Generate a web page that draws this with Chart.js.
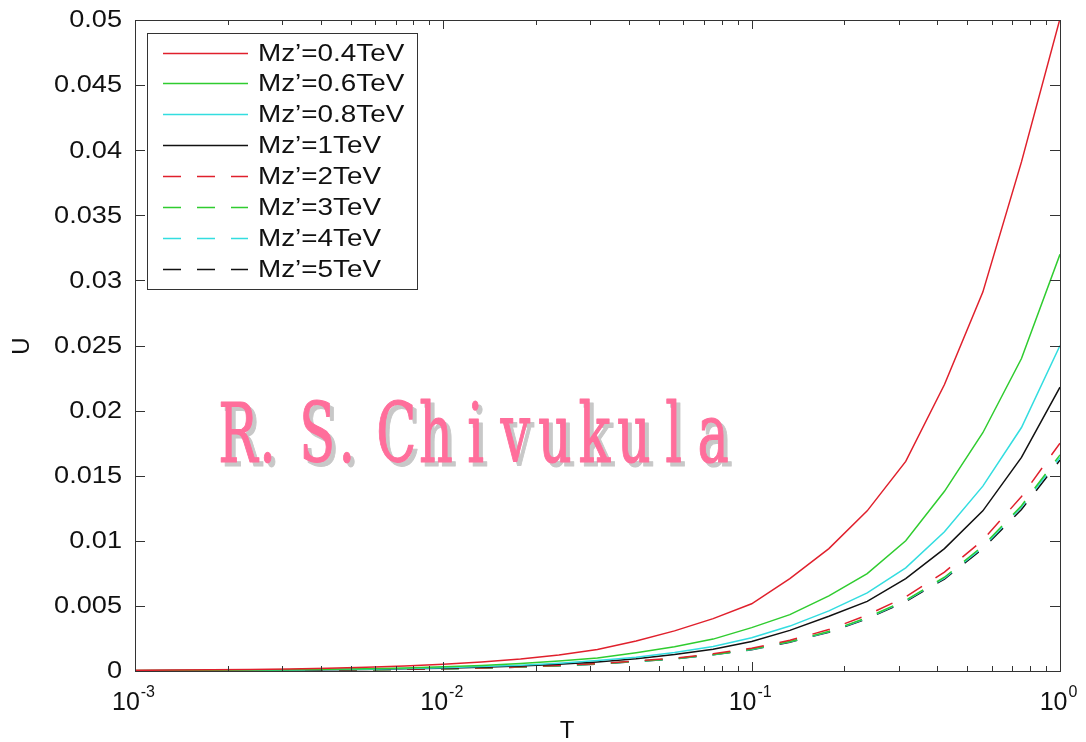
<!DOCTYPE html>
<html>
<head>
<meta charset="utf-8">
<title>U vs T</title>
<script src="https://cdn.jsdelivr.net/npm/chart.js@4.4.0/dist/chart.umd.min.js"></script>
<style>
  html, body { margin: 0; padding: 0; background: #fff; }
  #uChart { display: block; }
</style>
</head>
<body>
<canvas id="uChart" width="1086" height="742"></canvas>
<script>
// T sample points (log spaced, 8 per decade)
const T = [0.001, 0.00133, 0.00178, 0.00237, 0.00316, 0.00422, 0.00562, 0.0075,
           0.01, 0.0133, 0.0178, 0.0237, 0.0316, 0.0422, 0.0562, 0.075,
           0.1, 0.133, 0.178, 0.237, 0.316, 0.422, 0.562, 0.75, 1];

// U for each Z' mass
const u04 = [0.00005, 0.00007, 0.00009, 0.00012, 0.00016, 0.00022, 0.00029, 0.00039,
             0.00052, 0.00069, 0.00092, 0.00123, 0.00165, 0.0023, 0.00308, 0.00402,
             0.00516, 0.0071, 0.0094, 0.0123, 0.0161, 0.022, 0.0291, 0.0391, 0.0501];
const u06 = [0.000033, 0.000043, 0.000057, 0.000076, 0.0001, 0.000135, 0.00018, 0.00024,
             0.00033, 0.00043, 0.00057, 0.00076, 0.00099, 0.00141, 0.00186, 0.00245,
             0.00333, 0.00433, 0.00577, 0.00748, 0.01, 0.0138, 0.0183, 0.024, 0.032];
const u08 = [0.000025, 0.000034, 0.000045, 0.00006, 0.00008, 0.000107, 0.00014, 0.00019,
             0.00025, 0.00034, 0.00045, 0.0006, 0.0008, 0.00106, 0.00142, 0.00188,
             0.00255, 0.00345, 0.00462, 0.006, 0.00792, 0.0107, 0.0142, 0.0187, 0.025];
const u1 = [0.000022, 0.000029, 0.000039, 0.000052, 0.00007, 0.000093, 0.000124, 0.000165,
            0.00022, 0.00029, 0.00039, 0.00052, 0.0007, 0.00094, 0.00126, 0.00167,
            0.00227, 0.00312, 0.0042, 0.00535, 0.0071, 0.0094, 0.0123, 0.0164, 0.0218];
const u2 = [0.000018, 0.000024, 0.000032, 0.000043, 0.000057, 0.000076, 0.0001, 0.000135,
            0.00018, 0.00024, 0.00032, 0.00043, 0.00057, 0.00077, 0.00099, 0.00132,
            0.00175, 0.00236, 0.00318, 0.0043, 0.0057, 0.0076, 0.01005, 0.0134, 0.0175];
const u3 = [0.000017, 0.000023, 0.000031, 0.000041, 0.000055, 0.000073, 0.000097, 0.00013,
            0.00017, 0.00023, 0.00031, 0.00041, 0.00055, 0.00074, 0.00095, 0.00126,
            0.00168, 0.00226, 0.00304, 0.0041, 0.00544, 0.0072, 0.0096, 0.0127, 0.0166];
const u4 = [0.000017, 0.000022, 0.00003, 0.00004, 0.000054, 0.000072, 0.000096, 0.000128,
            0.00017, 0.00023, 0.0003, 0.0004, 0.00054, 0.00073, 0.00094, 0.00125,
            0.00166, 0.00224, 0.00301, 0.00406, 0.0054, 0.00714, 0.0095, 0.0126, 0.0164];
const u5 = [0.000016, 0.000022, 0.00003, 0.00004, 0.000053, 0.000071, 0.000095, 0.000126,
            0.000168, 0.00022, 0.0003, 0.0004, 0.00053, 0.00072, 0.00093, 0.00124,
            0.00164, 0.00221, 0.00298, 0.00402, 0.00534, 0.00706, 0.0094, 0.0124, 0.0162];

const seriesLabels = ['Mz’=0.4TeV', 'Mz’=0.6TeV', 'Mz’=0.8TeV', 'Mz’=1TeV',
                      'Mz’=2TeV', 'Mz’=3TeV', 'Mz’=4TeV', 'Mz’=5TeV'];
const seriesValues = [u04, u06, u08, u1, u2, u3, u4, u5];
const seriesColors = ['#e0202c', '#2fcc2f', '#33dde0', '#111111',
                      '#e0202c', '#2fcc2f', '#33dde0', '#111111'];
const seriesDashed = [false, false, false, false, true, true, true, true];

// axis ticks
const yTicks = [0, 0.005, 0.01, 0.015, 0.02, 0.025, 0.03, 0.035, 0.04, 0.045, 0.05];
const yTickLabels = ['0', '0.005', '0.01', '0.015', '0.02', '0.025', '0.03', '0.035', '0.04', '0.045', '0.05'];
const xDecades = [0.001, 0.01, 0.1, 1];
const xDecadeExp = ['-3', '-2', '-1', '0'];

const DASH = [18, 16];
const FONT = '"Liberation Sans", Arial, sans-serif';

const datasets = seriesValues.map((vals, i) => ({
  label: seriesLabels[i],
  data: T.map((t, j) => ({ x: t, y: vals[j] })),
  borderColor: seriesColors[i],
  backgroundColor: seriesColors[i],
  borderWidth: 1.5,
  borderDash: seriesDashed[i] ? DASH : [],
  pointRadius: 0,
  tension: 0,
  fill: false
}));

// draws box, inward ticks, tick labels, legend, axis titles and the name stamp
const matlabAxes = {
  id: 'matlabAxes',
  afterDatasetsDraw(chart) {
    const ctx = chart.ctx;
    const area = chart.chartArea;
    const xs = chart.scales.x;
    const ys = chart.scales.y;
    ctx.save();

    // box
    ctx.strokeStyle = '#333';
    ctx.lineWidth = 1;
    ctx.strokeRect(Math.round(area.left) + 0.5, Math.round(area.top) + 0.5,
                   Math.round(area.right - area.left), Math.round(area.bottom - area.top));

    // x ticks (top and bottom, pointing in)
    ctx.beginPath();
    xDecades.forEach(d => {
      for (let m = 1; m <= 9; m++) {
        const v = m * d;
        if (v > 1.0001) break;
        const px = Math.round(xs.getPixelForValue(v)) + 0.5;
        const len = m === 1 ? 9 : 5;
        ctx.moveTo(px, area.bottom); ctx.lineTo(px, area.bottom - len);
        ctx.moveTo(px, area.top); ctx.lineTo(px, area.top + len);
      }
    });
    // y ticks (left and right)
    yTicks.forEach(v => {
      const py = Math.round(ys.getPixelForValue(v)) + 0.5;
      ctx.moveTo(area.left, py); ctx.lineTo(area.left + 10, py);
      ctx.moveTo(area.right, py); ctx.lineTo(area.right - 10, py);
    });
    ctx.stroke();

    // y tick labels
    ctx.fillStyle = '#111';
    ctx.textBaseline = 'middle';
    ctx.textAlign = 'right';
    yTicks.forEach((v, i) => {
      const py = ys.getPixelForValue(v);
      ctx.save();
      ctx.translate(122, py + 1);
      ctx.scale(1.18, 1);
      ctx.font = '23px ' + FONT;
      ctx.fillText(yTickLabels[i], 0, 0);
      ctx.restore();
    });

    // x tick labels as 10^n
    ctx.textAlign = 'left';
    ctx.textBaseline = 'alphabetic';
    xDecades.forEach((v, i) => {
      const px = xs.getPixelForValue(v);
      ctx.font = '25px ' + FONT;
      const wBase = ctx.measureText('10').width;
      ctx.font = '16px ' + FONT;
      const wExp = ctx.measureText(xDecadeExp[i]).width;
      const x0 = px - (wBase + wExp) / 2 - 2;
      ctx.font = '25px ' + FONT;
      ctx.fillText('10', x0, 710);
      ctx.font = '16px ' + FONT;
      ctx.fillText(xDecadeExp[i], x0 + wBase + 1, 697);
    });

    // axis titles
    ctx.font = '24px ' + FONT;
    ctx.textAlign = 'center';
    ctx.textBaseline = 'middle';
    ctx.fillText('T', 567, 731);
    ctx.save();
    ctx.translate(22, 346);
    ctx.rotate(-Math.PI / 2);
    ctx.fillText('U', 0, 0);
    ctx.restore();

    // legend
    const lx = 147, ly = 33, lw = 270, lh = 256;
    ctx.fillStyle = '#fff';
    ctx.fillRect(lx, ly, lw, lh);
    ctx.strokeStyle = '#333';
    ctx.strokeRect(lx + 0.5, ly + 0.5, lw, lh);
    chart.data.datasets.forEach((ds, i) => {
      const ry = Math.round(52.5 + 30.9 * i) + 0.5;
      ctx.strokeStyle = ds.borderColor;
      ctx.lineWidth = 1.3;
      ctx.setLineDash(ds.borderDash);
      ctx.beginPath();
      ctx.moveTo(163, ry);
      ctx.lineTo(248, ry);
      ctx.stroke();
      ctx.setLineDash([]);
      ctx.save();
      ctx.translate(258, ry + 1);
      ctx.scale(1.16, 1);
      ctx.fillStyle = '#111';
      ctx.font = '24px ' + FONT;
      ctx.textAlign = 'left';
      ctx.textBaseline = 'middle';
      ctx.fillText(ds.label, 0, 0);
      ctx.restore();
    });

    // name stamp, one glyph per fixed-width cell
    const stamp = 'R.S.Chivukula';
    ctx.font = '82px "DejaVu Serif", serif';
    ctx.textAlign = 'center';
    ctx.textBaseline = 'alphabetic';
    ctx.lineJoin = 'round';
    [['#c8c8c8', 4, 4], ['#ff6e9b', 0, 0]].forEach(([col, dx, dy]) => {
      ctx.fillStyle = col;
      ctx.strokeStyle = col;
      ctx.lineWidth = 1.2;
      for (let i = 0; i < stamp.length; i++) {
        const ch = stamp[i];
        const cx = 238 + 39.6 * i - (ch === '.' ? 10 : 0);
        ctx.save();
        ctx.translate(cx + dx, 462 + dy);
        ctx.scale(0.64, 1);
        ctx.fillText(ch, 0, 0);
        ctx.strokeText(ch, 0, 0);
        ctx.restore();
      }
    });

    ctx.restore();
  }
};

new Chart(document.getElementById('uChart'), {
  type: 'line',
  data: { datasets },
  options: {
    responsive: false,
    animation: false,
    layout: { padding: { left: 135, right: 26, top: 20, bottom: 71 } },
    plugins: { legend: { display: false }, tooltip: { enabled: false } },
    scales: {
      x: { type: 'logarithmic', min: 0.001, max: 1, display: false },
      y: { type: 'linear', min: 0, max: 0.05, display: false }
    }
  },
  plugins: [matlabAxes]
});
</script>
</body>
</html>
